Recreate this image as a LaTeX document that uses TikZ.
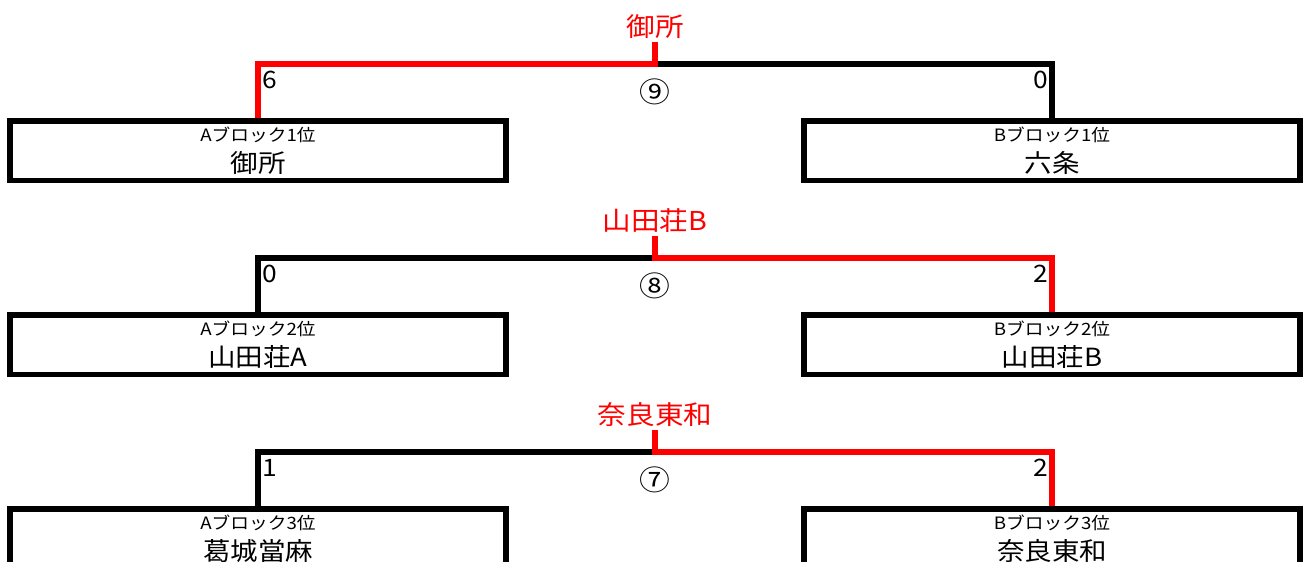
\documentclass[tikz,border=0pt]{standalone}
\usepackage{fontspec}
\setmainfont[FakeStretch=1.1]{Noto Sans CJK JP}
\tikzset{
	team/.style={draw, line width=5.6pt, minimum width=496pt, minimum height=59.5pt, inner sep=0pt},
	rank/.style={font=\fontsize{17}{17}\selectfont, inner sep=0pt},
	teamname/.style={font=\fontsize{25}{25}\selectfont, inner sep=0pt},
	score/.style={font=\fontsize{24}{24}\selectfont, inner sep=0pt},
	game/.style={font=\fontsize{28}{28}\selectfont, inner sep=0pt},
	winner/.style={font=\fontsize{26}{26}\selectfont, text=red, inner sep=0pt},
	bracket/.style={line width=5.2pt}
}
\begin{document}
\begin{tikzpicture}[x=1pt, y=-1pt]
	\useasboundingbox (0,0) rectangle (1304,562);
	\clip (0,0) rectangle (1304,562);
	\foreach \i/\y/\n/\ta/\tb/\sa/\sb/\w/\wt in {1/64/⑨/御所/六条/6/0/a/御所, 2/258/⑧/山田荘A/山田荘B/0/2/b/山田荘B, 3/452/⑦/葛城當麻/奈良東和/1/2/b/奈良東和}
	{
		\coordinate (c\i) at (655,\y);
		\node[team] (a\i) at (258,\y+86.75) {};
		\node[team] (b\i) at (1052,\y+86.75) {};
		\node[rank] (ra\i) at ([yshift=16pt]a\i.center) {Aブロック\i{}位};
		\node[rank] (rb\i) at ([yshift=16pt]b\i.center) {Bブロック\i{}位};
		\node[teamname] (na\i) at ([yshift=-12pt]a\i.center) {\ta};
		\node[teamname] (nb\i) at ([yshift=-12pt]b\i.center) {\tb};
		\node[score, anchor=west, xshift=4pt, yshift=-16pt] (pa\i) at (a\i.north |- c\i) {\sa};
		\node[score, anchor=east, xshift=-4pt, yshift=-16pt] (pb\i) at (b\i.north |- c\i) {\sb};
		\node[game] (g\i) at ([yshift=-28pt]c\i) {\n};
		\node[winner] (w\i) at ([yshift=37pt]c\i) {\wt};
		\draw[bracket] (a\i.north) |- (c\i) -| (b\i.north);
		\draw[bracket, red] (\w\i.north) |- (c\i) -- ([yshift=-3pt]w\i.south);
	}
\end{tikzpicture}
\end{document}
